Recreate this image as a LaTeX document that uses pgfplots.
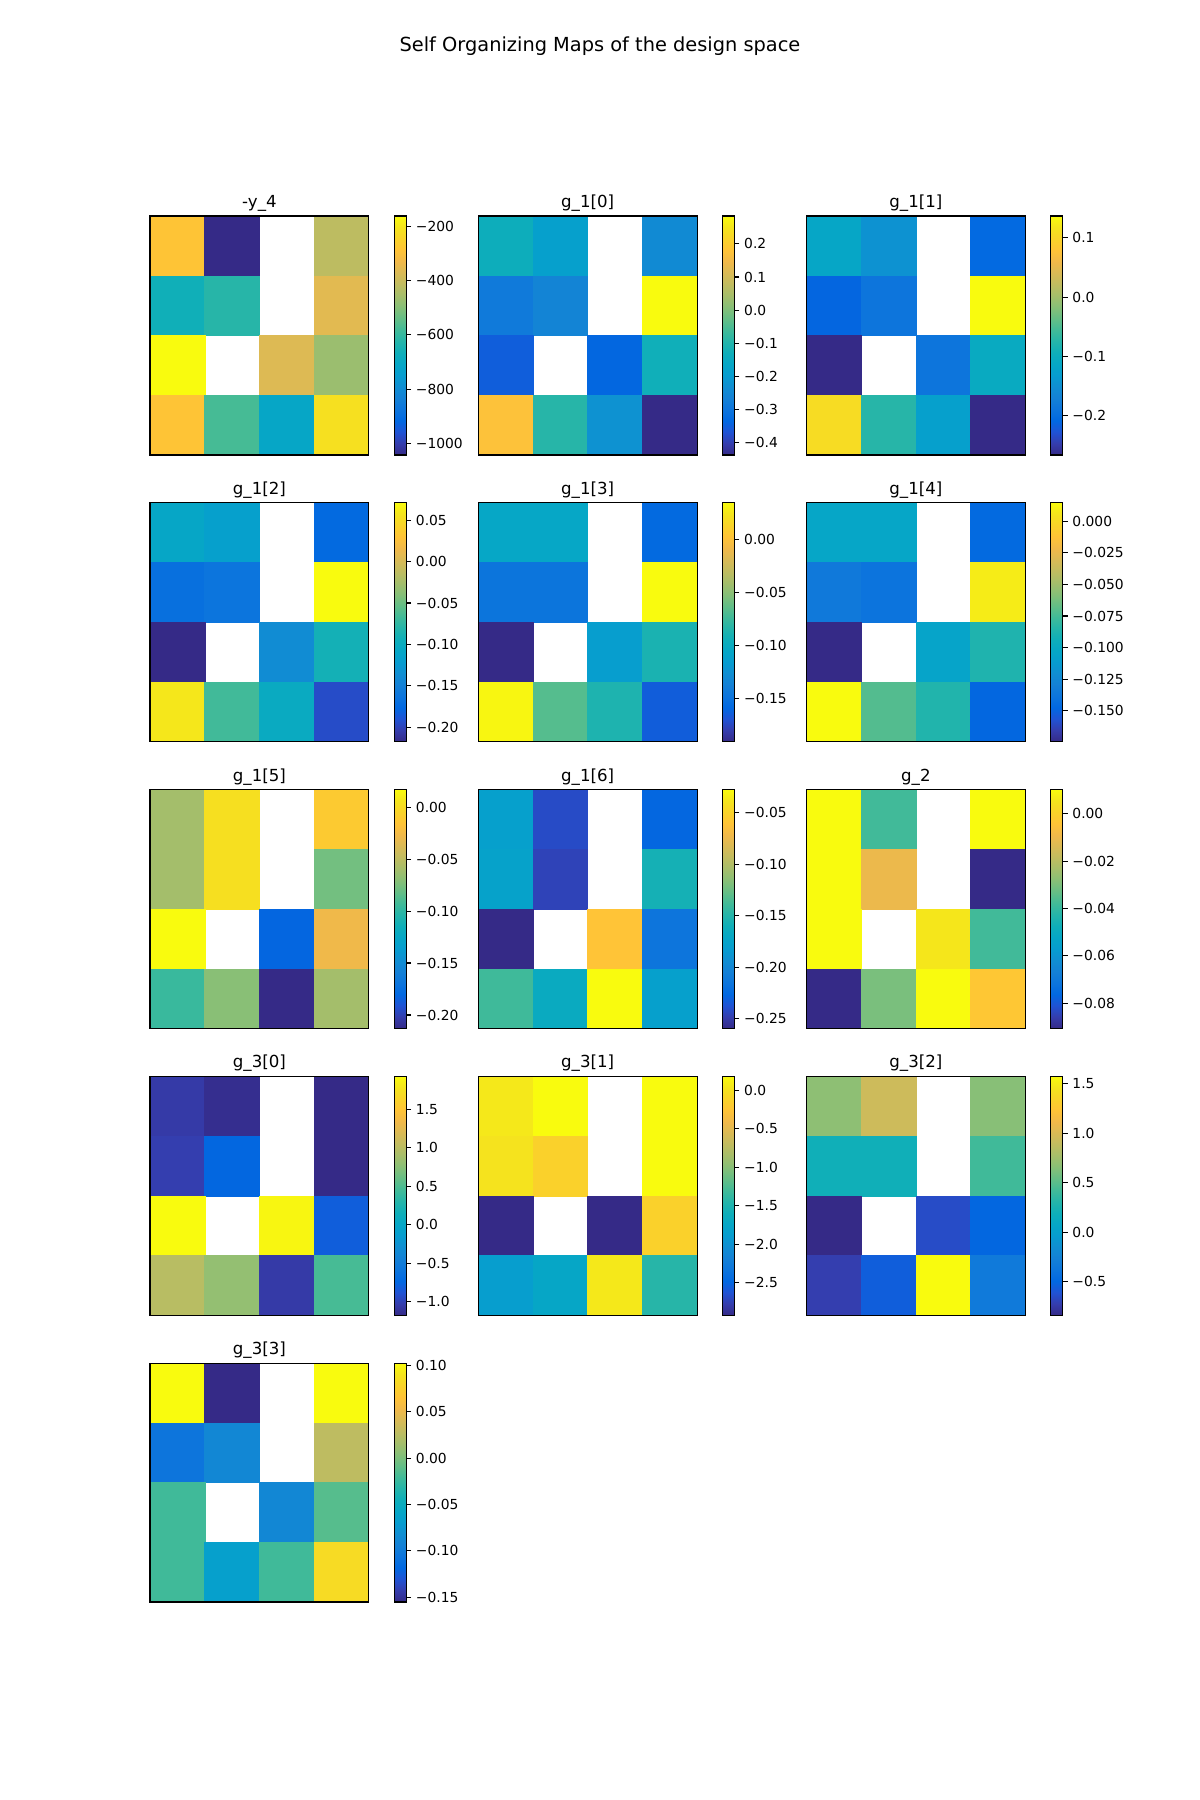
\documentclass[border=0pt]{standalone}
\usepackage{fontspec}
\setmainfont{DejaVu Sans}
\usepackage{pgfplots}
\pgfplotsset{compat=1.18}
\pgfdeclareplotmark{hmcell}{%
  \pgfpathrectangle{\pgfqpoint{-19.77pt}{-21.59pt}}{\pgfqpoint{39.54pt}{43.18pt}}%
  \pgfusepathqfillstroke}
\pgfplotsset{
  colormap={parula}{
    rgb=(0.2081,0.1663,0.5292) rgb=(0.2081,0.2386,0.6771) rgb=(0.1253,0.3242,0.8303)
    rgb=(0.0060,0.4086,0.8828) rgb=(0.0498,0.4586,0.8641) rgb=(0.0779,0.5040,0.8384)
    rgb=(0.0641,0.5570,0.8240) rgb=(0.0265,0.6137,0.8135) rgb=(0.0228,0.6535,0.7768)
    rgb=(0.0590,0.6838,0.7254) rgb=(0.1453,0.7098,0.6646) rgb=(0.2586,0.7317,0.5954)
    rgb=(0.3953,0.7459,0.5244) rgb=(0.5300,0.7491,0.4661) rgb=(0.6473,0.7456,0.4188)
    rgb=(0.7525,0.7384,0.3768) rgb=(0.8507,0.7299,0.3360) rgb=(0.9450,0.7261,0.2886)
    rgb=(0.9990,0.7653,0.2164) rgb=(0.9789,0.8271,0.1633) rgb=(0.9589,0.8949,0.1132)
    rgb=(0.9763,0.9831,0.0538)},
  hm/.style={
    width=2.1882in, height=2.3897in, scale only axis,
    anchor=north west,
    xmin=-0.5, xmax=3.5, ymin=-0.5, ymax=3.5, y dir=reverse,
    xtick=\empty, ytick=\empty,
    axis on top,
    clip marker paths=true,
    axis line style={line width=0.8pt},
    colormap name=parula,
    colorbar,
    title style={at={(0.5,1)}, anchor=base, inner sep=0pt,
      font=\fontsize{12}{14.4}\selectfont},
    colorbar style={
      at={(parent axis.north east)}, anchor=north west, xshift=0.1368in,
      width=0.1195in,
      y dir=normal,
      ytick pos=right,
      scaled y ticks=false,
      tick align=outside,
      major tick length=3.5pt,
      major tick style={line width=0.8pt, black},
      axis line style={line width=0.8pt},
      yticklabel style={font=\fontsize{10}{12}\selectfont},
    },
  },
  hmcells/.style={scatter, only marks, mark=hmcell,
    point meta=\thisrow{c},
    scatter/use mapped color={draw=mapped color, fill=mapped color},
    mark options={line width=0.3pt}},
}
\begin{document}
\begin{tikzpicture}
\path[use as bounding box] (0,0) rectangle (12in,-18in);
\node[anchor=north, inner sep=0pt, font=\fontsize{14}{16.8}\selectfont] at (6in,-0.368in) {Self Organizing Maps of the design space};

% Row 1
\begin{axis}[hm, at={(1.5in,-2.16in)}, title={-y\_4},
  point meta min=-1043, point meta max=-162,
  colorbar style={ytick={-1000,-800,-600,-400,-200}, yticklabels={−1000,−800,−600,−400,−200}}]
\addplot[hmcells] table[x=x, y=y, row sep=\\] {
x y c \\
0 0 -285 \\ 1 0 -1043 \\ 3 0 -418 \\
0 1 -664 \\ 1 1 -620 \\ 3 1 -356 \\
0 2 -162 \\ 2 2 -365 \\ 3 2 -470 \\
0 3 -285 \\ 1 3 -576 \\ 2 3 -708 \\ 3 3 -215 \\
};
\end{axis}

\begin{axis}[hm, at={(4.7824in,-2.16in)}, title={g\_1[0]},
  point meta min=-0.437, point meta max=0.284,
  colorbar style={ytick={-0.4,-0.3,-0.2,-0.1,0,0.1,0.2}, yticklabels={−0.4,−0.3,−0.2,−0.1,0.0,0.1,0.2}}]
\addplot[hmcells] table[x=x, y=y, row sep=\\] {
x y c \\
0 0 -0.134 \\ 1 0 -0.185 \\ 3 0 -0.242 \\
0 1 -0.286 \\ 1 1 -0.257 \\ 3 1 0.284 \\
0 2 -0.350 \\ 2 2 -0.336 \\ 3 2 -0.127 \\
0 3 0.176 \\ 1 3 -0.091 \\ 2 3 -0.221 \\ 3 3 -0.437 \\
};
\end{axis}

\begin{axis}[hm, at={(8.0647in,-2.16in)}, title={g\_1[1]},
  point meta min=-0.266, point meta max=0.137,
  colorbar style={ytick={-0.2,-0.1,0,0.1}, yticklabels={−0.2,−0.1,0.0,0.1}}]
\addplot[hmcells] table[x=x, y=y, row sep=\\] {
x y c \\
0 0 -0.113 \\ 1 0 -0.145 \\ 3 0 -0.206 \\
0 1 -0.210 \\ 1 1 -0.189 \\ 3 1 0.137 \\
0 2 -0.266 \\ 2 2 -0.189 \\ 3 2 -0.105 \\
0 3 0.109 \\ 1 3 -0.073 \\ 2 3 -0.125 \\ 3 3 -0.266 \\
};
\end{axis}

% Row 2
\begin{axis}[hm, at={(1.5in,-5.0276in)}, title={g\_1[2]},
  point meta min=-0.2175, point meta max=0.071,
  colorbar style={ytick={-0.20,-0.15,-0.10,-0.05,0,0.05}, yticklabels={−0.20,−0.15,−0.10,−0.05,0.00,0.05}}]
\addplot[hmcells] table[x=x, y=y, row sep=\\] {
x y c \\
0 0 -0.108 \\ 1 0 -0.117 \\ 3 0 -0.174 \\
0 1 -0.168 \\ 1 1 -0.163 \\ 3 1 0.071 \\
0 2 -0.2175 \\ 2 2 -0.137 \\ 3 2 -0.091 \\
0 3 0.059 \\ 1 3 -0.067 \\ 2 3 -0.102 \\ 3 3 -0.194 \\
};
\end{axis}

\begin{axis}[hm, at={(4.7824in,-5.0276in)}, title={g\_1[3]},
  point meta min=-0.1906, point meta max=0.0343,
  colorbar style={ytick={-0.15,-0.10,-0.05,0}, yticklabels={−0.15,−0.10,−0.05,0.00}}]
\addplot[hmcells] table[x=x, y=y, row sep=\\] {
x y c \\
0 0 -0.105 \\ 1 0 -0.105 \\ 3 0 -0.157 \\
0 1 -0.148 \\ 1 1 -0.148 \\ 3 1 0.0343 \\
0 2 -0.1906 \\ 2 2 -0.114 \\ 3 2 -0.089 \\
0 3 0.032 \\ 1 3 -0.067 \\ 2 3 -0.087 \\ 3 3 -0.164 \\
};
\end{axis}

\begin{axis}[hm, at={(8.0647in,-5.0276in)}, title={g\_1[4]},
  point meta min=-0.1746, point meta max=0.0147,
  colorbar style={ytick={-0.150,-0.125,-0.100,-0.075,-0.050,-0.025,0}, yticklabels={−0.150,−0.125,−0.100,−0.075,−0.050,−0.025,0.000}}]
\addplot[hmcells] table[x=x, y=y, row sep=\\] {
x y c \\
0 0 -0.103 \\ 1 0 -0.103 \\ 3 0 -0.146 \\
0 1 -0.135 \\ 1 1 -0.139 \\ 3 1 0.009 \\
0 2 -0.1746 \\ 2 2 -0.105 \\ 3 2 -0.087 \\
0 3 0.0147 \\ 1 3 -0.071 \\ 2 3 -0.086 \\ 3 3 -0.148 \\
};
\end{axis}

% Row 3
\begin{axis}[hm, at={(1.5in,-7.8952in)}, title={g\_1[5]},
  point meta min=-0.213, point meta max=0.017,
  colorbar style={ytick={-0.20,-0.15,-0.10,-0.05,0}, yticklabels={−0.20,−0.15,−0.10,−0.05,0.00}}]
\addplot[hmcells] table[x=x, y=y, row sep=\\] {
x y c \\
0 0 -0.060 \\ 1 0 0.003 \\ 3 0 -0.011 \\
0 1 -0.060 \\ 1 1 0.003 \\ 3 1 -0.077 \\
0 2 0.017 \\ 2 2 -0.181 \\ 3 2 -0.027 \\
0 3 -0.096 \\ 1 3 -0.070 \\ 2 3 -0.213 \\ 3 3 -0.060 \\
};
\end{axis}

\begin{axis}[hm, at={(4.7824in,-7.8952in)}, title={g\_1[6]},
  point meta min=-0.2593, point meta max=-0.0273,
  colorbar style={ytick={-0.25,-0.20,-0.15,-0.10,-0.05}, yticklabels={−0.25,−0.20,−0.15,−0.10,−0.05}}]
\addplot[hmcells] table[x=x, y=y, row sep=\\] {
x y c \\
0 0 -0.178 \\ 1 0 -0.241 \\ 3 0 -0.227 \\
0 1 -0.176 \\ 1 1 -0.245 \\ 3 1 -0.157 \\
0 2 -0.2593 \\ 2 2 -0.060 \\ 3 2 -0.215 \\
0 3 -0.139 \\ 1 3 -0.166 \\ 2 3 -0.0273 \\ 3 3 -0.178 \\
};
\end{axis}

\begin{axis}[hm, at={(8.0647in,-7.8952in)}, title={g\_2},
  point meta min=-0.0907, point meta max=0.0103,
  colorbar style={ytick={-0.08,-0.06,-0.04,-0.02,0}, yticklabels={−0.08,−0.06,−0.04,−0.02,0.00}}]
\addplot[hmcells] table[x=x, y=y, row sep=\\] {
x y c \\
0 0 0.0103 \\ 1 0 -0.038 \\ 3 0 0.0103 \\
0 1 0.0103 \\ 1 1 -0.010 \\ 3 1 -0.0907 \\
0 2 0.0103 \\ 2 2 0.006 \\ 3 2 -0.038 \\
0 3 -0.0907 \\ 1 3 -0.030 \\ 2 3 0.0103 \\ 3 3 -0.003 \\
};
\end{axis}

% Row 4
\begin{axis}[hm, at={(1.5in,-10.7628in)}, title={g\_3[0]},
  point meta min=-1.174, point meta max=1.927,
  colorbar style={ytick={-1.0,-0.5,0,0.5,1.0,1.5}, yticklabels={−1.0,−0.5,0.0,0.5,1.0,1.5}}]
\addplot[hmcells] table[x=x, y=y, row sep=\\] {
x y c \\
0 0 -1.050 \\ 1 0 -1.143 \\ 3 0 -1.174 \\
0 1 -1.019 \\ 1 1 -0.740 \\ 3 1 -1.174 \\
0 2 1.927 \\ 2 2 1.896 \\ 3 2 -0.802 \\
0 3 0.997 \\ 1 3 0.811 \\ 2 3 -1.050 \\ 3 3 0.470 \\
};
\end{axis}

\begin{axis}[hm, at={(4.7824in,-10.7628in)}, title={g\_3[1]},
  point meta min=-2.925, point meta max=0.181,
  colorbar style={ytick={-2.5,-2.0,-1.5,-1.0,-0.5,0}, yticklabels={−2.5,−2.0,−1.5,−1.0,−0.5,0.0}}]
\addplot[hmcells] table[x=x, y=y, row sep=\\] {
x y c \\
0 0 0.057 \\ 1 0 0.181 \\ 3 0 0.181 \\
0 1 0.026 \\ 1 1 -0.130 \\ 3 1 0.181 \\
0 2 -2.925 \\ 2 2 -2.925 \\ 3 2 -0.130 \\
0 3 -1.869 \\ 1 3 -1.745 \\ 2 3 0.057 \\ 3 3 -1.434 \\
};
\end{axis}

\begin{axis}[hm, at={(8.0647in,-10.7628in)}, title={g\_3[2]},
  point meta min=-0.837, point meta max=1.574,
  colorbar style={ytick={-0.5,0,0.5,1.0,1.5}, yticklabels={−0.5,0.0,0.5,1.0,1.5}}]
\addplot[hmcells] table[x=x, y=y, row sep=\\] {
x y c \\
0 0 0.682 \\ 1 0 0.947 \\ 3 0 0.658 \\
0 1 0.200 \\ 1 1 0.200 \\ 3 1 0.417 \\
0 2 -0.837 \\ 2 2 -0.644 \\ 3 2 -0.499 \\
0 3 -0.716 \\ 1 3 -0.548 \\ 2 3 1.574 \\ 3 3 -0.331 \\
};
\end{axis}

% Row 5
\begin{axis}[hm, at={(1.5in,-13.6304in)}, title={g\_3[3]},
  point meta min=-0.1553, point meta max=0.1027,
  colorbar style={ytick={-0.15,-0.10,-0.05,0,0.05,0.10}, yticklabels={−0.15,−0.10,−0.05,0.00,0.05,0.10}}]
\addplot[hmcells] table[x=x, y=y, row sep=\\] {
x y c \\
0 0 0.1027 \\ 1 0 -0.1553 \\ 3 0 0.1027 \\
0 1 -0.106 \\ 1 1 -0.088 \\ 3 1 0.028 \\
0 2 -0.021 \\ 2 2 -0.088 \\ 3 2 -0.013 \\
0 3 -0.021 \\ 1 3 -0.065 \\ 2 3 -0.021 \\ 3 3 0.084 \\
};
\end{axis}
\end{tikzpicture}
\end{document}
